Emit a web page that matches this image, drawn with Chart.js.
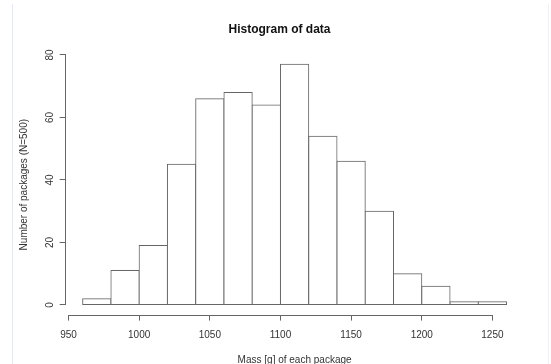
<!DOCTYPE html>
<html>
<head>
<meta charset="utf-8">
<title>Histogram of data</title>
<script src="https://cdn.jsdelivr.net/npm/chart.js@4"></script>
<style>
  body { margin: 0; background: #fff; }
  .wrap { position: relative; width: 551px; height: 364px; }
  .frame {
    position: absolute; left: 12px; top: 4px; width: 535px; height: 360px;
    border-left: 1px solid #e4e8f2; border-right: 1px solid #eef0f6;
  }
  canvas { position: absolute; left: 0; top: 0; }
</style>
</head>
<body>
<div class="wrap">
  <div class="frame"></div>
  <canvas id="hist" width="551" height="364"></canvas>
</div>
<script>
//------Data------
const binCenters = [970, 990, 1010, 1030, 1050, 1070, 1090, 1110, 1130, 1150, 1170, 1190, 1210, 1230, 1250];
const counts = [2, 11, 19, 45, 66, 68, 64, 77, 54, 46, 30, 10, 6, 1, 1];
const xTicks = [950, 1000, 1050, 1100, 1150, 1200, 1250];
const yTicks = [0, 20, 40, 60, 80];
//----------------

const lineColor = '#666';
const textColor = '#333';
const fontFamily = '"Liberation Sans", Arial, sans-serif';

// R style axis lines: only from first to last tick
const axisLines = {
  id: 'axisLines',
  afterDraw(chart) {
    const ctx = chart.ctx;
    const x = chart.scales.x;
    const y = chart.scales.y;
    const area = chart.chartArea;
    ctx.save();
    ctx.strokeStyle = lineColor;
    ctx.lineWidth = 1;
    ctx.beginPath();
    const by = Math.round(area.bottom) + 0.5;
    ctx.moveTo(x.getPixelForValue(xTicks[0]), by);
    ctx.lineTo(x.getPixelForValue(xTicks[xTicks.length - 1]), by);
    const lx = Math.round(area.left) - 0.5;
    ctx.moveTo(lx, y.getPixelForValue(yTicks[0]));
    ctx.lineTo(lx, y.getPixelForValue(yTicks[yTicks.length - 1]));
    ctx.stroke();
    ctx.restore();
  }
};

new Chart(document.getElementById('hist'), {
  type: 'bar',
  data: {
    datasets: [{
      data: binCenters.map((c, i) => ({ x: c, y: counts[i] })),
      backgroundColor: '#fff',
      borderColor: lineColor,
      borderWidth: 1,
      borderSkipped: false,
      inflateAmount: 0.5,
      barPercentage: 1,
      categoryPercentage: 1
    }]
  },
  options: {
    responsive: false,
    animation: false,
    layout: { padding: { left: 35.5, right: 27.5, top: 0, bottom: 0 } },
    plugins: {
      legend: { display: false },
      tooltip: { enabled: false },
      title: {
        display: true,
        text: 'Histogram of data',
        color: '#111',
        font: { family: fontFamily, size: 12, weight: 'bold', lineHeight: 1.2 },
        padding: { top: 22.8, bottom: 17.55 }
      }
    },
    scales: {
      x: {
        type: 'linear',
        min: 948,
        max: 1272,
        offset: false,
        afterBuildTicks: (scale) => { scale.ticks = xTicks.map(v => ({ value: v })); },
        afterFit: (scale) => { scale.height = 49.4; },
        border: { display: false },
        grid: { offset: false, drawOnChartArea: false, drawTicks: true, tickLength: 6, color: lineColor },
        ticks: {
          color: textColor,
          padding: 9,
          maxRotation: 0,
          font: { family: fontFamily, size: 10 },
          callback: (v) => String(v)
        },
        title: {
          display: true,
          text: 'Mass [g] of each package',
          color: textColor,
          font: { family: fontFamily, size: 10, lineHeight: 0.8 },
          padding: { top: 0, bottom: 0 }
        }
      },
      y: {
        min: -3.08,
        max: 80.08,
        afterBuildTicks: (scale) => { scale.ticks = yTicks.map(v => ({ value: v })); },
        afterFit: (scale) => { scale.width = 30.2; },
        border: { display: false },
        grid: { drawOnChartArea: false, drawTicks: true, tickLength: 6, color: lineColor },
        ticks: {
          color: textColor,
          padding: 4,
          minRotation: 90,
          maxRotation: 90,
          crossAlign: 'center',
          font: { family: fontFamily, size: 10 },
          callback: (v) => String(v)
        },
        title: {
          display: true,
          text: 'Number of packages (N=500)',
          color: textColor,
          font: { family: fontFamily, size: 10, lineHeight: 1.2 },
          padding: { top: -17.5, bottom: 0 }
        }
      }
    }
  },
  plugins: [axisLines]
});
</script>
</body>
</html>
